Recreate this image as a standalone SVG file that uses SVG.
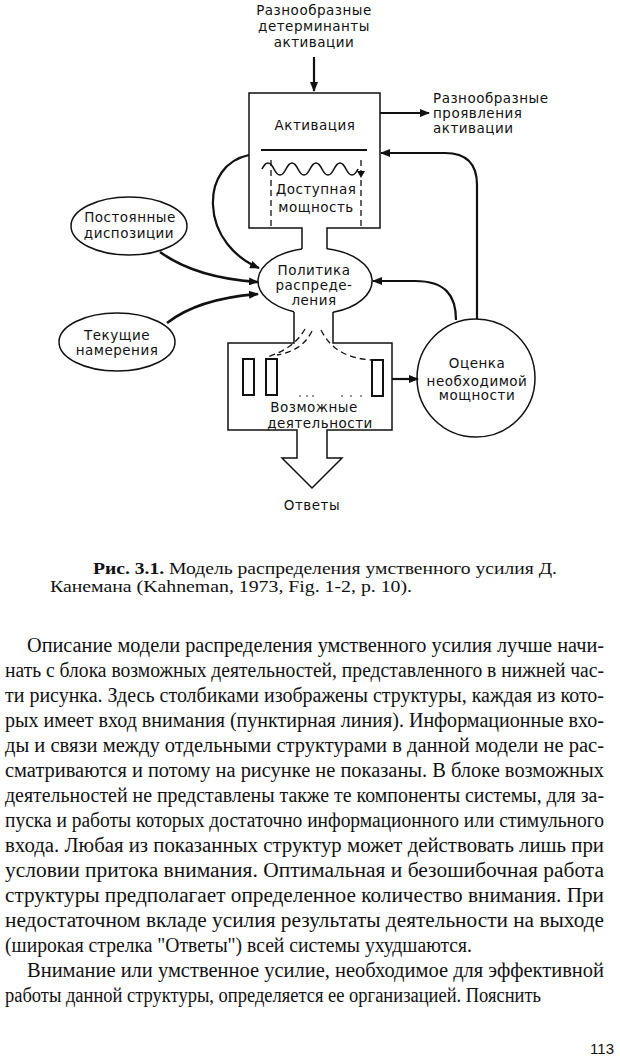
<svg xmlns="http://www.w3.org/2000/svg" width="620" height="1058" viewBox="0 0 620 1058">
<style>
.lbl{font-family:"DejaVu Sans","Liberation Sans",sans-serif;font-size:13.5px;fill:#111;text-anchor:middle;letter-spacing:0.5px}
.lbl-l{font-family:"DejaVu Sans","Liberation Sans",sans-serif;font-size:13.5px;fill:#111;letter-spacing:0.5px}
.shape{fill:none;stroke:#111;stroke-width:1.5}
.conn{fill:none;stroke:#111;stroke-width:2.2}
.conn-thick{fill:none;stroke:#111;stroke-width:2.6}
.dash{fill:none;stroke:#111;stroke-width:1.3;stroke-dasharray:6,4}
.bar{fill:#fff;stroke:#111;stroke-width:2}
.body{font-family:"Liberation Serif","Times New Roman",serif;font-size:20px;fill:#111}
.cap{font-family:"Liberation Serif","Times New Roman",serif;font-size:16px;fill:#111}
</style>
<defs>
<marker id="ah" markerUnits="userSpaceOnUse" markerWidth="10" markerHeight="8" refX="9" refY="4" orient="auto">
<path d="M0,0 L10,4 L0,8 z" fill="#111"/>
</marker>
</defs>
<rect width="620" height="1058" fill="#fff"/>

<g id="label-determinants">
<text class="lbl" x="314" y="15">Разнообразные</text>
<text class="lbl" x="314" y="31">детерминанты</text>
<text class="lbl" x="314" y="47">активации</text>
</g>

<g id="label-manifestations">
<text class="lbl-l" x="433" y="103">Разнообразные</text>
<text class="lbl-l" x="433" y="118">проявления</text>
<text class="lbl-l" x="433" y="133">активации</text>
</g>

<g id="node-activation">
<path class="shape" d="M302,249 L302,228 L249,228 L249,93 L380,93 L380,228 L327,228 L327,249"/>
<text class="lbl" x="315" y="130">Активация</text>
<line x1="261" y1="150" x2="367" y2="150" stroke="#111" stroke-width="2"/>
<path d="M262,169 Q268,157 274,169 T286,169 T298,169 T310,169 T322,169 T334,169 T346,169 T358,169" fill="none" stroke="#111" stroke-width="1.6"/>
<path d="M357,171 L365,171 L361,178 z" fill="#111"/>
<line class="dash" x1="271" y1="160" x2="271" y2="228" stroke-dasharray="9,3"/>
<line class="dash" x1="361" y1="160" x2="361" y2="228" stroke-dasharray="9,3"/>
<text class="lbl" x="316" y="194">Доступная</text>
<text class="lbl" x="316" y="212">мощность</text>
</g>

<g id="node-policy">
<path class="shape" d="M302,248.9 A57,33 0 0 0 294,311.7 M333,312.3 A57,33 0 0 0 327,248.7"/>
<text class="lbl" x="314" y="275">Политика</text>
<text class="lbl" x="314" y="290">распреде-</text>
<text class="lbl" x="314" y="305">ления</text>
</g>

<g id="node-dispositions">
<ellipse class="shape" cx="129" cy="226" rx="58" ry="29"/>
<text class="lbl" x="130" y="222">Постоянные</text>
<text class="lbl" x="129" y="238">диспозиции</text>
</g>

<g id="node-intentions">
<ellipse class="shape" cx="117" cy="342" rx="58" ry="29"/>
<text class="lbl" x="117" y="340">Текущие</text>
<text class="lbl" x="117" y="355">намерения</text>
</g>

<g id="node-evaluation">
<circle class="shape" cx="476" cy="378" r="59"/>
<text class="lbl" x="477" y="368">Оценка</text>
<text class="lbl" x="477" y="386">необходимой</text>
<text class="lbl" x="477" y="400">мощности</text>
</g>

<g id="node-activities">
<path class="shape" d="M294,312 L294,343 L228,343 L228,430 L297,430 L297,458 L282,458 L312,488 L342,458 L327,458 L327,430 L392,430 L392,343 L333,343 L333,312"/>
<rect class="bar" x="243" y="359" width="11" height="36"/>
<rect class="bar" x="266" y="359" width="11" height="36"/>
<rect class="bar" x="372" y="360" width="11" height="36"/>
<g fill="#111">
<circle cx="300" cy="396" r="0.8"/><circle cx="307" cy="396" r="0.8"/><circle cx="313" cy="396" r="0.8"/>
<circle cx="342" cy="396" r="0.8"/><circle cx="351" cy="396" r="0.8"/><circle cx="361" cy="396" r="0.8"/>
</g>
<path class="dash" d="M305,329 C297,343 284,352 267,357"/>
<path class="dash" d="M312,331 C305,345 294,352 277,355"/>
<path class="dash" d="M321,330 C330,348 345,358 371,360"/>
<text class="lbl" x="314" y="412">Возможные</text>
<text class="lbl" x="320" y="428">деятельности</text>
</g>

<g id="label-responses">
<text class="lbl" x="312" y="510">Ответы</text>
</g>

<g id="connectors">
<path class="conn" d="M314,57 L314,91" marker-end="url(#ah)"/>
<path class="conn" d="M380,113 L429,113" marker-end="url(#ah)"/>
<path class="conn" d="M477,319 L477,185 Q477,153 445,153 L381,153" marker-end="url(#ah)"/>
<path class="conn" d="M249,155 C225,160 212,180 213,205 C214,235 235,258 259,268" marker-end="url(#ah)"/>
<path class="conn-thick" d="M160,252 C182,268 212,279 258,282" marker-end="url(#ah)"/>
<path class="conn-thick" d="M167,323 C190,305 220,297 258,294" marker-end="url(#ah)"/>
<path class="conn" d="M456,320 C456,295 445,281 415,281 L373,281" marker-end="url(#ah)"/>
<path class="conn" d="M392,379 L418,379" marker-end="url(#ah)"/>
</g>

<g id="caption">
<text class="cap" x="93" y="574" textLength="464" lengthAdjust="spacingAndGlyphs"><tspan font-weight="bold">Рис. 3.1.</tspan> Модель распределения умственного усилия Д.</text>
<text class="cap" x="50" y="592" textLength="362" lengthAdjust="spacingAndGlyphs">Канемана (Kahneman, 1973, Fig. 1-2, p. 10).</text>
</g>

<g id="body-text">
<text class="body" x="27" y="652" textLength="577" lengthAdjust="spacingAndGlyphs">Описание модели распределения умственного усилия лучше начи-</text>
<text class="body" x="5" y="677" textLength="599" lengthAdjust="spacingAndGlyphs">нать с блока возможных деятельностей, представленного в нижней час-</text>
<text class="body" x="5" y="702" textLength="599" lengthAdjust="spacingAndGlyphs">ти рисунка. Здесь столбиками изображены структуры, каждая из кото-</text>
<text class="body" x="5" y="727" textLength="599" lengthAdjust="spacingAndGlyphs">рых имеет вход внимания (пунктирная линия). Информационные вхо-</text>
<text class="body" x="5" y="752" textLength="599" lengthAdjust="spacingAndGlyphs">ды и связи между отдельными структурами в данной модели не рас-</text>
<text class="body" x="5" y="777" textLength="599" lengthAdjust="spacingAndGlyphs">сматриваются и потому на рисунке не показаны. В блоке возможных</text>
<text class="body" x="5" y="802" textLength="599" lengthAdjust="spacingAndGlyphs">деятельностей не представлены также те компоненты системы, для за-</text>
<text class="body" x="5" y="827" textLength="599" lengthAdjust="spacingAndGlyphs">пуска и работы которых достаточно информационного или стимульного</text>
<text class="body" x="5" y="852" textLength="599" lengthAdjust="spacingAndGlyphs">входа. Любая из показанных структур может действовать лишь при</text>
<text class="body" x="5" y="877" textLength="599" lengthAdjust="spacingAndGlyphs">условии притока внимания. Оптимальная и безошибочная работа</text>
<text class="body" x="5" y="902" textLength="599" lengthAdjust="spacingAndGlyphs">структуры предполагает определенное количество внимания. При</text>
<text class="body" x="5" y="927" textLength="599" lengthAdjust="spacingAndGlyphs">недостаточном вкладе усилия результаты деятельности на выходе</text>
<text class="body" x="5" y="952" textLength="467" lengthAdjust="spacingAndGlyphs">(широкая стрелка "Ответы") всей системы ухудшаются.</text>
<text class="body" x="27" y="977" textLength="577" lengthAdjust="spacingAndGlyphs">Внимание или умственное усилие, необходимое для эффективной</text>
<text class="body" x="5" y="1002" textLength="536" lengthAdjust="spacingAndGlyphs">работы данной структуры, определяется ее организацией. Пояснить</text>
</g>

<g id="page-number">
<text x="614" y="1054" text-anchor="end" font-family="Liberation Sans, Arial, sans-serif" font-size="15" fill="#111">113</text>
</g>
</svg>
